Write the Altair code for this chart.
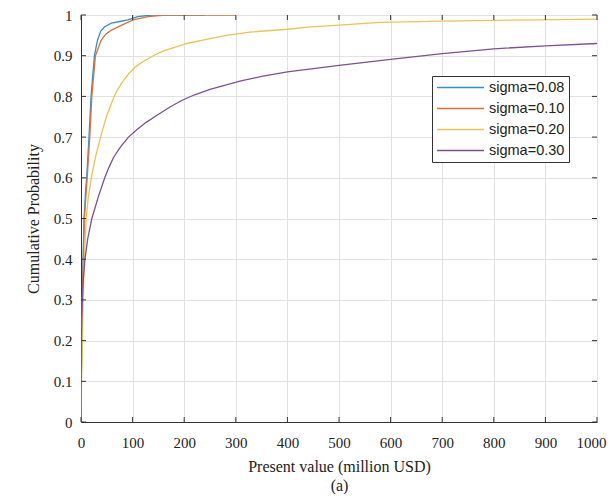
import altair as alt
import pandas as pd

# ---- data ----
names = ["sigma=0.08", "sigma=0.10", "sigma=0.20", "sigma=0.30"]
colors = ["#2e92c6", "#d8703f", "#e9c450", "#7f4f95"]

x08 = [0, 0.5, 1.5, 2.5, 4, 6, 9, 11, 15.5, 19.5, 26, 32, 38, 46, 59, 75, 91, 110, 137, 240]
y08 = [0, 0.1, 0.2, 0.3, 0.4, 0.5, 0.57, 0.6, 0.7, 0.8, 0.9, 0.938, 0.96, 0.971, 0.98, 0.984, 0.988, 0.996, 1.0, 1.0]

x10 = [0, 0.6, 1.8, 2.8, 4.5, 6.5, 12, 17, 21, 28, 39, 48, 59, 79, 101, 130, 163, 300]
y10 = [0, 0.1, 0.2, 0.3, 0.4, 0.5, 0.6, 0.7, 0.8, 0.9, 0.938, 0.953, 0.963, 0.975, 0.988, 0.996, 1.0, 1.0]

x20 = [0, 1, 2.5, 4, 6.5, 10, 14, 20, 28, 38, 48, 58, 68, 80, 92, 105, 120, 140, 160, 180, 205,
       243, 282, 327, 400, 440, 500, 580, 700, 800, 890, 1000]
y20 = [0, 0.1, 0.2, 0.3, 0.4, 0.5, 0.55, 0.6, 0.65, 0.7, 0.745, 0.78, 0.81, 0.835, 0.855, 0.872,
       0.885, 0.9, 0.912, 0.92, 0.93, 0.94, 0.95, 0.958, 0.965, 0.97, 0.975, 0.982, 0.985, 0.987,
       0.988, 0.99]

x30 = [0, 0.3, 0.8, 1.5, 2.6, 4.5, 7.7, 13, 21, 34, 46, 54, 63, 76, 92, 108, 125, 145, 170, 195,
       220, 250, 280, 310, 350, 400, 450, 500, 600, 700, 800, 900, 1000]
y30 = [0, 0.1, 0.2, 0.25, 0.3, 0.35, 0.4, 0.45, 0.5, 0.555, 0.6, 0.625, 0.65, 0.675, 0.7, 0.718,
       0.735, 0.752, 0.772, 0.79, 0.804, 0.817, 0.828, 0.838, 0.849, 0.86, 0.868, 0.876, 0.891,
       0.905, 0.917, 0.924, 0.93]

xticks = [0, 100, 200, 300, 400, 500, 600, 700, 800, 900, 1000]
yticks = [0, 0.1, 0.2, 0.3, 0.4, 0.5, 0.6, 0.7, 0.8, 0.9, 1.0]

# ---- build table ----
rows = []
for name, xs, ys in zip(names, [x08, x10, x20, x30], [y08, y10, y20, y30]):
    for i, (a, b) in enumerate(zip(xs, ys)):
        rows.append({"series": name, "x": a, "y": b, "idx": i})
df = pd.DataFrame(rows)

W, H = 516, 407
serif = "Liberation Serif"
ink = "#222222"

xscale = alt.Scale(domain=[0, 1000], nice=False, zero=False)
yscale = alt.Scale(domain=[0, 1], nice=False)

lines = alt.Chart(df).mark_line(strokeWidth=1.3, clip=True).encode(
    x=alt.X("x:Q", scale=xscale,
            axis=alt.Axis(values=xticks, title=["Present value (million USD)", "(a)"],
                          ticks=False, labelPadding=13, titlePadding=8,
                          titleLineHeight=19, format="d",
                          labelOffset={"condition": {"test": "datum.value == 1000", "value": -6},
                                       "value": 0})),
    y=alt.Y("y:Q", scale=yscale,
            axis=alt.Axis(values=yticks, title="Cumulative Probability",
                          ticks=False, labelPadding=9, titlePadding=12, format="~g")),
    color=alt.Color("series:N", scale=alt.Scale(domain=names, range=colors),
                    legend=alt.Legend(title=None, orient="none", legendX=351, legendY=61,
                                      symbolType="stroke", symbolSize=2209,
                                      symbolStrokeWidth=1.5, labelFont="Liberation Sans",
                                      labelFontSize=14.5, labelColor=ink, labelOffset=4,
                                      clipHeight=15, rowPadding=5, padding=4,
                                      strokeColor="#333333",
                                      fillColor="white", cornerRadius=0)),
    order="idx:Q",
)

xt = pd.DataFrame({"x": xticks})
yt = pd.DataFrame({"y": yticks})
tick_color = "#333333"
bottom_ticks = alt.Chart(xt).mark_rule(color=tick_color).encode(
    x=alt.X("x:Q", scale=xscale), y=alt.value(H), y2=alt.value(H - 5))
top_ticks = alt.Chart(xt).mark_rule(color=tick_color).encode(
    x=alt.X("x:Q", scale=xscale), y=alt.value(0), y2=alt.value(5))
left_ticks = alt.Chart(yt).mark_rule(color=tick_color).encode(
    y=alt.Y("y:Q", scale=yscale), x=alt.value(0), x2=alt.value(5))
right_ticks = alt.Chart(yt).mark_rule(color=tick_color).encode(
    y=alt.Y("y:Q", scale=yscale), x=alt.value(W), x2=alt.value(W - 5))

chart = alt.layer(lines, bottom_ticks, top_ticks, left_ticks, right_ticks).properties(
    width=W, height=H,
    autosize=alt.AutoSizeParams(type="none"),
    padding={"left": 73, "top": 7, "right": 10, "bottom": 72},
).configure_view(
    stroke="#333333", strokeWidth=1
).configure_axis(
    labelFont=serif, labelFontSize=15, labelColor=ink,
    titleFont=serif, titleFontSize=16, titleColor=ink, titleFontWeight="normal",
    gridColor="#e2e2e2", gridWidth=1, domainColor="#333333", domainWidth=1,
    labelFlush=False, labelOverlap=False,
)

chart.save("out.html", embed_options={"renderer": "svg", "actions": False})
